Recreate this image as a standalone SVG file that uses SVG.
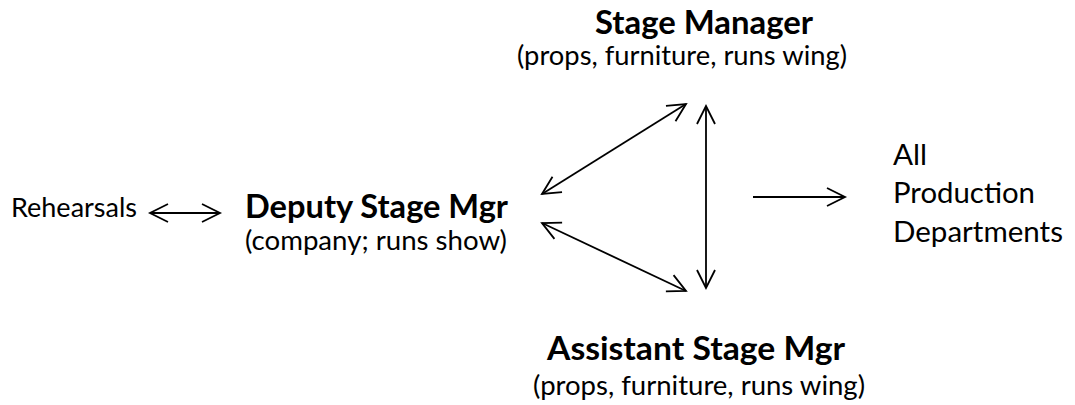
<svg xmlns="http://www.w3.org/2000/svg" width="1075" height="405" viewBox="0 0 1075 405">
<defs>
<style>
.t{font-family:Lato,"Open Sans","Liberation Sans",sans-serif;fill:#000}
.b{font-weight:bold;font-size:33px}
.r{font-size:27.5px}
.p{font-size:29.5px}
.c{stroke:#000;stroke-width:1.8;fill:none}
</style>
<marker id="ah" viewBox="0 0 20 20" refX="19" refY="10" markerWidth="20" markerHeight="20" markerUnits="userSpaceOnUse" orient="auto-start-reverse" overflow="visible">
<path d="M1,1 L19,10 L1,19" fill="none" stroke="#000" stroke-width="1.8"/>
</marker>
</defs>
<rect width="1075" height="405" fill="#fff"/>
<g id="rehearsals"><text class="t r" x="11" y="217" textLength="126" lengthAdjust="spacingAndGlyphs">Rehearsals</text></g>
<g id="deputy">
<text class="t b" x="245" y="218" textLength="263" lengthAdjust="spacingAndGlyphs">Deputy Stage Mgr</text>
<text class="t r" x="245" y="250" textLength="262" lengthAdjust="spacingAndGlyphs">(company; runs show)</text>
</g>
<g id="stage-manager">
<text class="t b" x="595" y="34" textLength="218" lengthAdjust="spacingAndGlyphs">Stage Manager</text>
<text class="t r" x="517" y="65" textLength="330" lengthAdjust="spacingAndGlyphs">(props, furniture, runs wing)</text>
</g>
<g id="assistant">
<text class="t b" x="547" y="360" textLength="298" lengthAdjust="spacingAndGlyphs">Assistant Stage Mgr</text>
<text class="t r" x="533" y="395" textLength="332" lengthAdjust="spacingAndGlyphs">(props, furniture, runs wing)</text>
</g>
<g id="departments">
<text class="t p" x="893" y="165" textLength="34" lengthAdjust="spacingAndGlyphs">All</text>
<text class="t p" x="893" y="203" textLength="142" lengthAdjust="spacingAndGlyphs">Production</text>
<text class="t p" x="893" y="242" textLength="170" lengthAdjust="spacingAndGlyphs">Departments</text>
</g>
<g id="connectors">
<line class="c" x1="150" y1="213" x2="220" y2="213" marker-start="url(#ah)" marker-end="url(#ah)"/>
<line class="c" x1="542" y1="194" x2="686" y2="104" marker-start="url(#ah)" marker-end="url(#ah)"/>
<line class="c" x1="706" y1="106" x2="706" y2="288" marker-start="url(#ah)" marker-end="url(#ah)"/>
<line class="c" x1="542" y1="223" x2="686" y2="291" marker-start="url(#ah)" marker-end="url(#ah)"/>
<line class="c" x1="753" y1="197" x2="845" y2="197" marker-end="url(#ah)"/>
</g>
</svg>
